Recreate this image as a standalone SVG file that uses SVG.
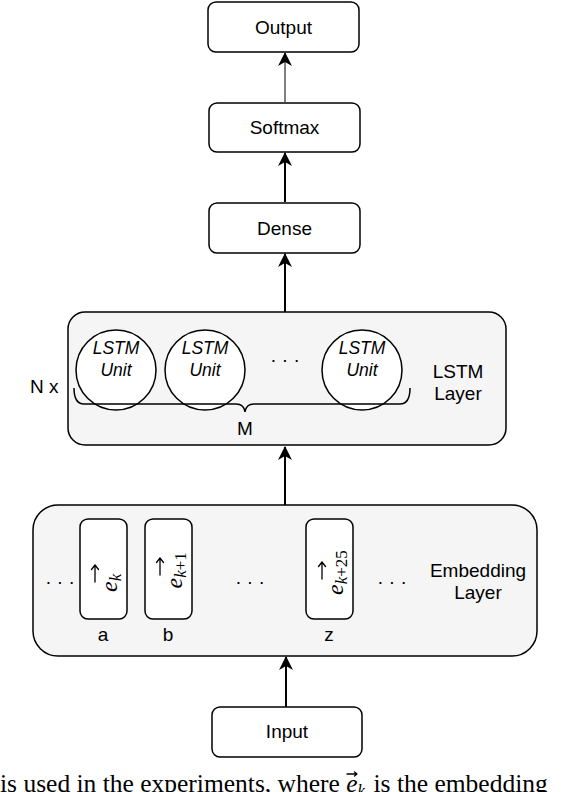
<svg xmlns="http://www.w3.org/2000/svg" width="570" height="792" viewBox="0 0 570 792">
<defs>
<style>
.box{fill:#ffffff;stroke:#000;stroke-width:1.5}
.layer{fill:#f5f5f5;stroke:#000;stroke-width:1.5}
.lbl{font-family:"Liberation Sans",Arial,sans-serif;font-size:19px;fill:#000}
.it{font-family:"Liberation Sans",Arial,sans-serif;font-size:17.5px;font-style:italic;fill:#000}
.math{font-family:"Liberation Serif","Times New Roman",serif;font-size:24px;font-style:italic;fill:#000}
.sub{font-size:17px}
.up{font-style:normal}
.vec{stroke:#000;stroke-width:1.3;fill:none;stroke-linecap:round;stroke-linejoin:round}
.conn{stroke:#000;fill:none}
.dots{font-family:"Liberation Sans",Arial,sans-serif;font-size:19px;fill:#000}
</style>
<marker id="ah" viewBox="0 0 14 14" refX="13" refY="7" markerWidth="14" markerHeight="14" markerUnits="userSpaceOnUse" orient="auto">
<path d="M0,0 L14,7 L0,14 L4,7 z" fill="#000"/>
</marker>
</defs>

<g id="connectors">
<line class="conn" x1="285" y1="102" x2="285" y2="53" stroke-width="1" marker-end="url(#ah)"/>
<line class="conn" x1="285" y1="202" x2="285" y2="153" stroke-width="2" marker-end="url(#ah)"/>
<line class="conn" x1="285" y1="312" x2="285" y2="254" stroke-width="2" marker-end="url(#ah)"/>
<line class="conn" x1="285" y1="505" x2="285" y2="447" stroke-width="2" marker-end="url(#ah)"/>
<line class="conn" x1="286" y1="707" x2="286" y2="657" stroke-width="2" marker-end="url(#ah)"/>
</g>

<g id="output">
<rect class="box" x="208" y="2" width="151" height="50" rx="8"/>
<text class="lbl" x="283.5" y="34" text-anchor="middle">Output</text>
</g>
<g id="softmax">
<rect class="box" x="209" y="103" width="151" height="49" rx="8"/>
<text class="lbl" x="284.5" y="134" text-anchor="middle">Softmax</text>
</g>
<g id="dense">
<rect class="box" x="209" y="203" width="151" height="50" rx="8"/>
<text class="lbl" x="284.5" y="235" text-anchor="middle">Dense</text>
</g>

<g id="lstm-layer">
<rect class="layer" x="68" y="312" width="438" height="133" rx="17"/>
<text class="lbl" x="30" y="393">N x</text>
<g id="lstm-unit-1">
<circle class="box" cx="116" cy="370" r="40"/>
<text class="it" x="116" y="354" text-anchor="middle">LSTM</text>
<text class="it" x="116" y="376" text-anchor="middle">Unit</text>
</g>
<g id="lstm-unit-2">
<circle class="box" cx="205" cy="370" r="40"/>
<text class="it" x="205" y="354" text-anchor="middle">LSTM</text>
<text class="it" x="205" y="376" text-anchor="middle">Unit</text>
</g>
<text class="dots" x="285" y="366" text-anchor="middle">· · ·</text>
<g id="lstm-unit-m">
<circle class="box" cx="362" cy="370" r="40"/>
<text class="it" x="362" y="354" text-anchor="middle">LSTM</text>
<text class="it" x="362" y="376" text-anchor="middle">Unit</text>
</g>
<path class="conn" stroke-width="1.5" d="M74,388 Q74,404 84,404 L236,404 Q244,404 245,412 Q246,404 254,404 L400,404 Q410,404 410,388"/>
<text class="lbl" x="245" y="435" text-anchor="middle">M</text>
<text class="lbl" x="458" y="378" text-anchor="middle">LSTM</text>
<text class="lbl" x="458" y="400" text-anchor="middle">Layer</text>
</g>

<g id="embedding-layer">
<rect class="layer" x="33" y="505" width="504" height="151" rx="25"/>
<text class="dots" x="60" y="588" text-anchor="middle">· · ·</text>
<g id="emb-a">
<rect class="box" x="80" y="519" width="47" height="100" rx="8"/>
<path class="vec" d="M95,582 L95,565 M91.5,569.5 L95,565 L98.5,569.5"/>
<g transform="translate(103.5,569) rotate(-90)">
<text class="math" x="-23" y="13">e<tspan class="sub" dy="4">k</tspan></text>
</g>
<text class="lbl" x="103" y="641" text-anchor="middle">a</text>
</g>
<g id="emb-b">
<rect class="box" x="145" y="519" width="47" height="100" rx="8"/>
<path class="vec" d="M160,575 L160,558 M156.5,562.5 L160,558 L163.5,562.5"/>
<g transform="translate(168.5,569) rotate(-90)">
<text class="math" x="-19.5" y="13">e<tspan class="sub" dy="4">k<tspan class="up">+1</tspan></tspan></text>
</g>
<text class="lbl" x="168" y="641" text-anchor="middle">b</text>
</g>
<text class="dots" x="250" y="588" text-anchor="middle">· · ·</text>
<g id="emb-z">
<rect class="box" x="306" y="519" width="47" height="100" rx="8"/>
<path class="vec" d="M322,579 L322,562 M318.5,566.5 L322,562 L325.5,566.5"/>
<g transform="translate(329.5,569) rotate(-90)">
<text class="math" x="-26" y="13">e<tspan class="sub" dy="4">k<tspan class="up">+25</tspan></tspan></text>
</g>
<text class="lbl" x="329" y="641" text-anchor="middle">z</text>
</g>
<text class="dots" x="392" y="588" text-anchor="middle">· · ·</text>
<text class="lbl" x="478" y="577" text-anchor="middle">Embedding</text>
<text class="lbl" x="478" y="599" text-anchor="middle">Layer</text>
</g>

<g id="input">
<rect class="box" x="212" y="707" width="150" height="50" rx="8"/>
<text class="lbl" x="287" y="738" text-anchor="middle">Input</text>
</g>

<g id="caption">
<text x="0" y="792" font-family="'Liberation Serif','Times New Roman',serif" font-size="25.5" fill="#000">is used in the experiments, where <tspan font-style="italic">e</tspan><tspan font-style="italic" font-size="17" dy="4">k</tspan><tspan dy="-4" dx="2"> is the embedding</tspan></text>
<path class="vec" stroke-width="1.1" d="M347,774 L357,774 M354.5,772 L357,774 L354.5,776"/>
</g>
</svg>
